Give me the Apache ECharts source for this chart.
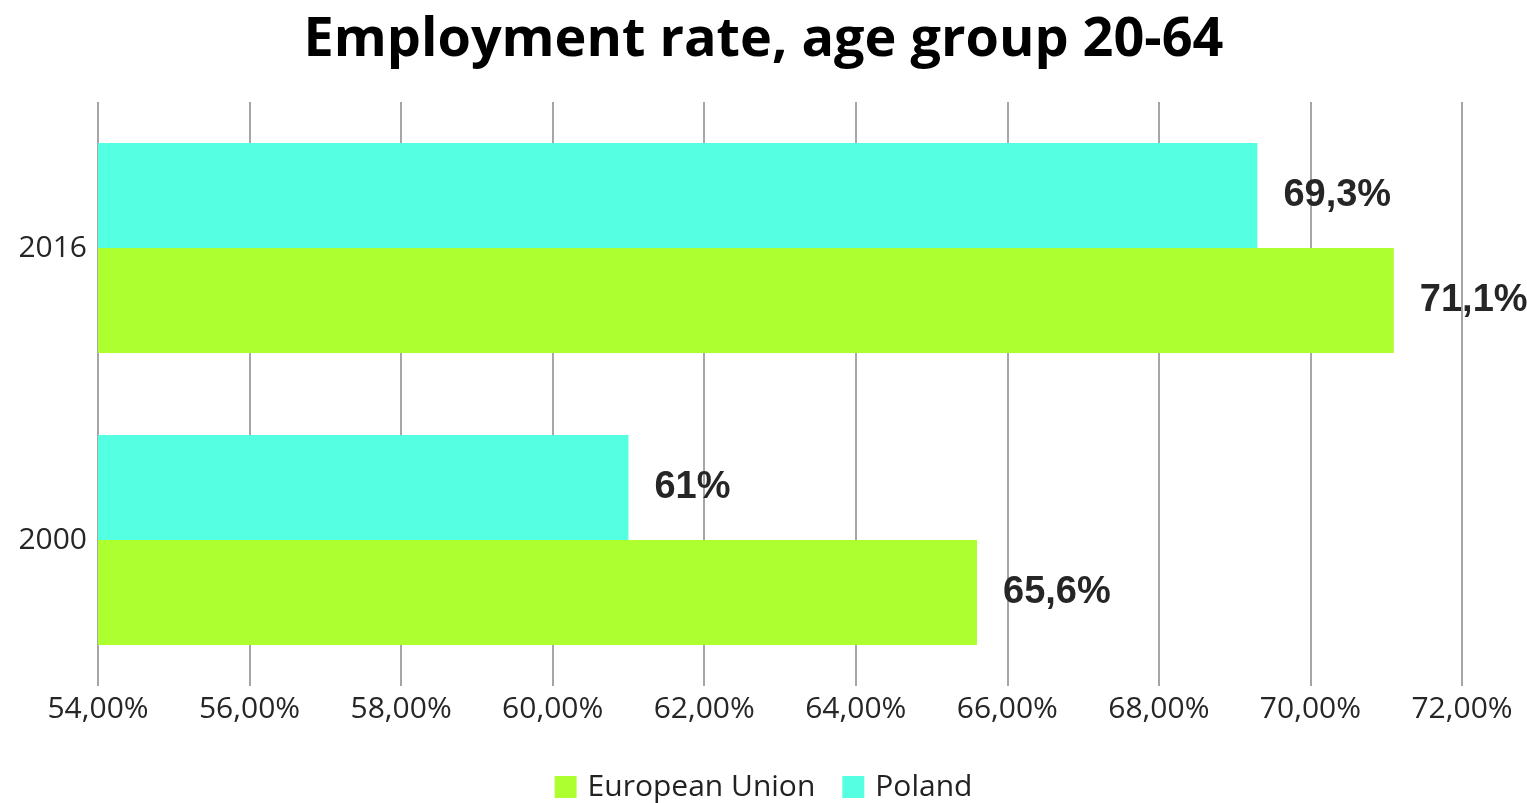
<!DOCTYPE html>
<html>
<head>
<meta charset="utf-8">
<script src="https://cdn.jsdelivr.net/npm/echarts@6/dist/echarts.min.js"></script>
<style>
  html, body { margin: 0; padding: 0; background: #fff; }
  #chart { width: 1527px; height: 803px; }
</style>
</head>
<body>
<div id="chart"></div>
<script>
const years = ['2000', '2016']
const euValues = [65.6, 71.1]
const polandValues = [61, 69.3]
const axisTicks = { min: 54, max: 72, step: 2 }

const comma = s => String(s).replace('.', ',')

const chart = echarts.init(document.getElementById('chart'))

const labelStyle = {
  show: true,
  position: 'right',
  distance: 26,
  fontFamily: 'Liberation Sans, Arial, sans-serif',
  fontWeight: 'bold',
  fontSize: 38,
  color: '#262626',
  formatter: p => comma(p.value) + '%',
}

chart.setOption({
  animation: false,
  title: {
    text: 'Employment rate, age group 20-64',
    left: 'center',
    top: 9,
    textStyle: {
      fontFamily: 'Open Sans',
      fontWeight: 'bold',
      fontSize: 54,
      color: '#000',
    },
  },
  legend: {
    bottom: 1,
    left: 'center',
    padding: 0,
    itemWidth: 22,
    itemHeight: 22,
    itemGap: 27,
    icon: 'rect',
    textStyle: { fontFamily: 'Open Sans', fontSize: 30, color: '#222', padding: [0, 0, 0, 6] },
    data: ['European Union', 'Poland'],
  },
  grid: { left: 98, right: 65, top: 102, bottom: 117, containLabel: false },
  xAxis: {
    type: 'value',
    min: axisTicks.min,
    max: axisTicks.max,
    interval: axisTicks.step,
    axisLine: { show: false },
    axisTick: { show: false },
    splitLine: { lineStyle: { color: '#a6a6a6', width: 2 } },
    axisLabel: {
      margin: 8,
      fontFamily: 'Open Sans',
      fontSize: 30,
      color: '#262626',
      formatter: v => comma(v.toFixed(2)) + '%',
    },
  },
  yAxis: {
    type: 'category',
    data: years,
    axisLine: { show: false },
    axisTick: { show: false },
    axisLabel: { margin: 11, fontFamily: 'Open Sans', fontSize: 30, color: '#262626' },
  },
  series: [
    {
      name: 'Poland',
      type: 'bar',
      data: polandValues,
      barGap: '0%',
      barCategoryGap: '28%',
      itemStyle: { color: '#55ffe1' },
      label: labelStyle,
    },
    {
      name: 'European Union',
      type: 'bar',
      data: euValues,
      barGap: '0%',
      barCategoryGap: '28%',
      itemStyle: { color: '#adff2f' },
      label: labelStyle,
    },
  ],
})
</script>
</body>
</html>
